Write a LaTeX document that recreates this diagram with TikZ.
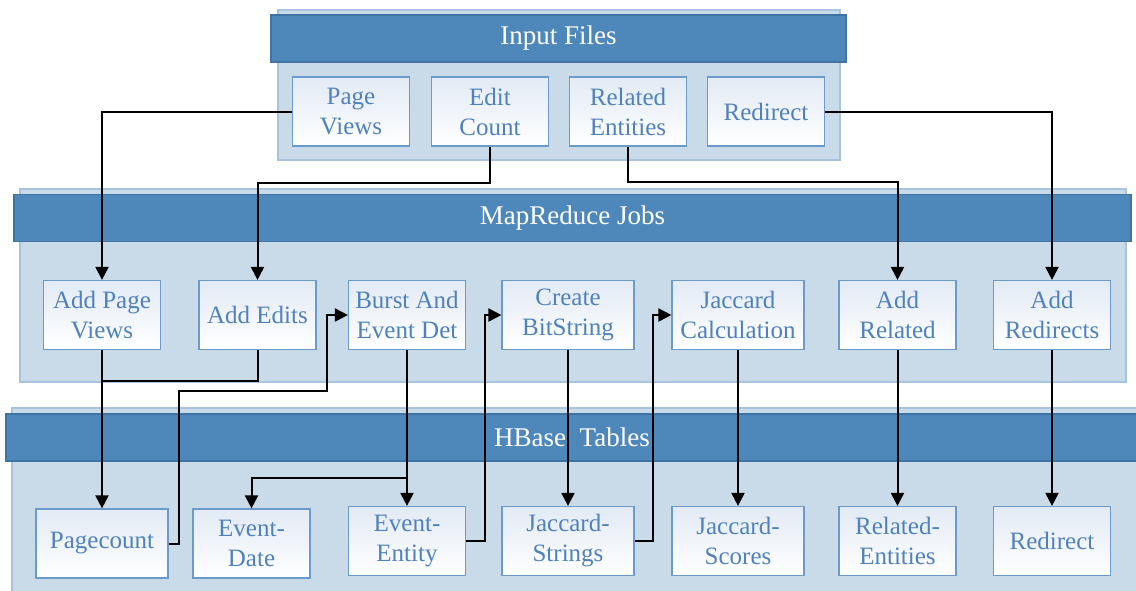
\documentclass[tikz,border=0pt]{standalone}
\usepackage{fontspec}
\setmainfont{Liberation Serif}
\usepackage{tikz}
\usetikzlibrary{arrows.meta,
                positioning}

\definecolor{panelfill}{HTML}{C9DAE9}
\definecolor{paneldraw}{HTML}{A7C3DD}
\definecolor{headfill}{HTML}{4E88BB}
\definecolor{headdraw}{HTML}{3F73A4}
\definecolor{boxdraw}{HTML}{6B9BCA}
\definecolor{boxtext}{HTML}{4F81BD}
\definecolor{boxshade}{HTML}{E2EAF4}

\tikzset{
  panel/.style={fill=panelfill, draw=paneldraw, line width=0.6pt},
  header/.style={rectangle, fill=headfill, draw=headdraw, line width=0.6pt,
                 text=white, font=\fontsize{13.5}{16}\selectfont,
                 minimum height=23.5pt, inner sep=0pt},
  job/.style={rectangle, draw=boxdraw, line width=0.6pt,
              top color=boxshade, bottom color=white, text=boxtext,
              align=center, font=\fontsize{12.5}{15}\selectfont,
              minimum width=58.5pt, minimum height=34.5pt, inner sep=1pt},
  widejob/.style={job, minimum width=66pt},
  flow/.style={draw=black, line width=1pt, -{Triangle[length=6.5pt, width=6.5pt]}},
  link/.style={draw=black, line width=1pt}
}

\begin{document}
\begin{tikzpicture}[x=0.5pt, y=-0.5pt]
\useasboundingbox (0,0) rectangle (1136,590);

% panels
\draw[panel] (278,10) rectangle (840,160);
\draw[panel] (20,189) rectangle (1126,382);
\draw[panel] (12,408) rectangle (1150,610);

% header bars
\node[header, minimum width=287.5pt] (inhead) at (558.5,38.5) {Input Files};
\node[header, minimum width=558.5pt] (mrhead) at (572.5,218) {MapReduce Jobs};
\node[header, minimum width=566pt] (hbhead) at (572,437.5) {HBase~~Tables};

% input files
\node[job] (pv) at (351,111.5) {Page\\Views};
\node[job] (ec) at (490,111.5) {Edit\\Count};
\node[job] (re) at (628,111.5) {Related\\Entities};
\node[job] (rd) at (766,111.5) {Redirect};

% mapreduce jobs
\node[job] (apv) at (102,315) {Add Page\\Views};
\node[job] (ae) at (257.5,315) {Add Edits};
\node[job] (bad) at (407,315) {Burst And\\Event Det};
\node[widejob] (cb) at (568,315) {Create\\BitString};
\node[widejob] (jc) at (738,315) {Jaccard\\Calculation};
\node[job] (ar) at (897.5,315) {Add\\Related};
\node[job] (ard) at (1052,315) {Add\\Redirects};

% hbase tables
\node[widejob] (pc) at (102,543.5) {Pagecount};
\node[job] (ed) at (251.5,543.5) {Event-\\Date};
\node[job] (ee) at (407,541) {Event-\\Entity};
\node[widejob] (js) at (568,541) {Jaccard-\\Strings};
\node[widejob] (jsc) at (738,541) {Jaccard-\\Scores};
\node[job] (rent) at (897.5,541) {Related-\\Entities};
\node[job] (rdt) at (1052,541) {Redirect};

\coordinate (merge) at (102,381);
\coordinate (pcbend) at (327,391);
\coordinate (split) at (407,478);

% connectors
\draw[flow] (pv.west) -| (apv.north);
\draw[flow] (ec.south) -- ++(0,36) -| (ae.north);
\draw[flow] (re.south) -- ++(0,35) -| (ar.north);
\draw[flow] (rd.east) -| (ard.north);

\draw[flow] (apv.south) -- (pc.north);
\draw[link] (ae.south) |- (merge);
\draw[flow] (pc.east) -- ++(10,0) |- (pcbend) |- (bad.west);
\draw[flow] (bad.south) -- (ee.north);
\draw[flow] (split) -| (ed.north);
\draw[flow] (ee.east) -- ++(19,0) |- (cb.west);
\draw[flow] (cb.south) -- (js.north);
\draw[flow] (js.east) -- ++(18.5,0) |- (jc.west);
\draw[flow] (jc.south) -- (jsc.north);
\draw[flow] (ar.south) -- (rent.north);
\draw[flow] (ard.south) -- (rdt.north);
\end{tikzpicture}
\end{document}
